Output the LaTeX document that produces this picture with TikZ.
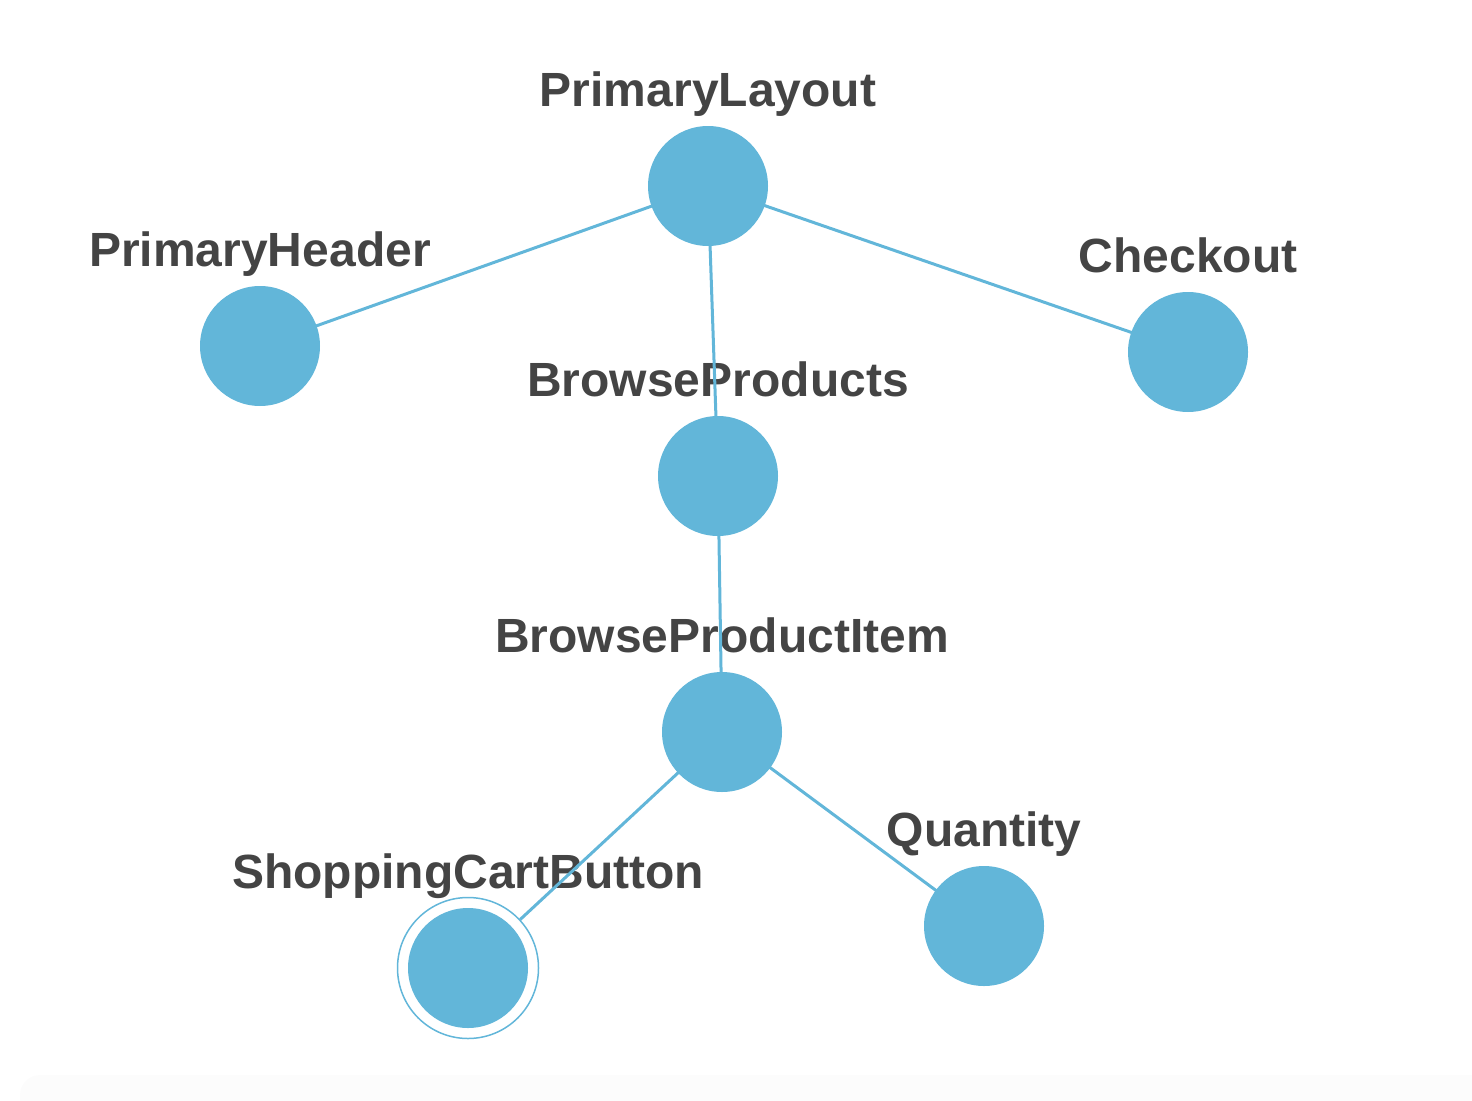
\documentclass[tikz,border=0pt]{standalone}
\usepackage{fontspec}
\setmainfont{Liberation Sans}
\definecolor{nodeblue}{RGB}{98,182,217}
\definecolor{labelgray}{RGB}{68,68,68}
\begin{document}
\begin{tikzpicture}[x=1pt,y=-1pt,
  vert/.style={circle,fill=nodeblue,minimum size=120pt,inner sep=0pt},
  ringed/.style={circle,draw=nodeblue,line width=1.5pt,minimum size=141pt,inner sep=0pt},
  lbl/.style={anchor=base,text=labelgray,font=\fontsize{48}{56}\selectfont\bfseries,inner sep=0pt},
  edge/.style={draw=nodeblue,line width=3pt}]
\useasboundingbox (0,0) rectangle (1472,1100);
\fill[black!1.2,rounded corners=20pt] (20,1075) rectangle (1500,1130);
% labels
\node[lbl] (tPL) at (708,106) {PrimaryLayout};
\node[lbl] (tPH) at (260,266) {PrimaryHeader};
\node[lbl] (tCO) at (1188,272) {Checkout};
\node[lbl] (tBP) at (718,396) {BrowseProducts};
\node[lbl] (tBI) at (722,652) {BrowseProductItem};
\node[lbl] (tSC) at (468,888) {ShoppingCartButton};
\node[lbl] (tQ) at (984,846) {Quantity};
% node positions
\coordinate (cPL) at (708,186);
\coordinate (cPH) at (260,346);
\coordinate (cCO) at (1188,352);
\coordinate (cBP) at (718,476);
\coordinate (cBI) at (722,732);
\coordinate (cSC) at (468,968);
\coordinate (cQ) at (984,926);
\node[ringed] (rSC) at (cSC) {};
% edges
\draw[edge] (cPL) -- (cPH);
\draw[edge] (cPL) -- (cCO);
\draw[edge] (cPL) -- (cBP);
\draw[edge] (cBP) -- (cBI);
\draw[edge] (cBI) -- (rSC);
\draw[edge] (cBI) -- (cQ);
% nodes
\node[vert] (PL) at (cPL) {};
\node[vert] (PH) at (cPH) {};
\node[vert] (CO) at (cCO) {};
\node[vert] (BP) at (cBP) {};
\node[vert] (BI) at (cBI) {};
\node[vert] (SC) at (cSC) {};
\node[vert] (Q) at (cQ) {};
\end{tikzpicture}
\end{document}
